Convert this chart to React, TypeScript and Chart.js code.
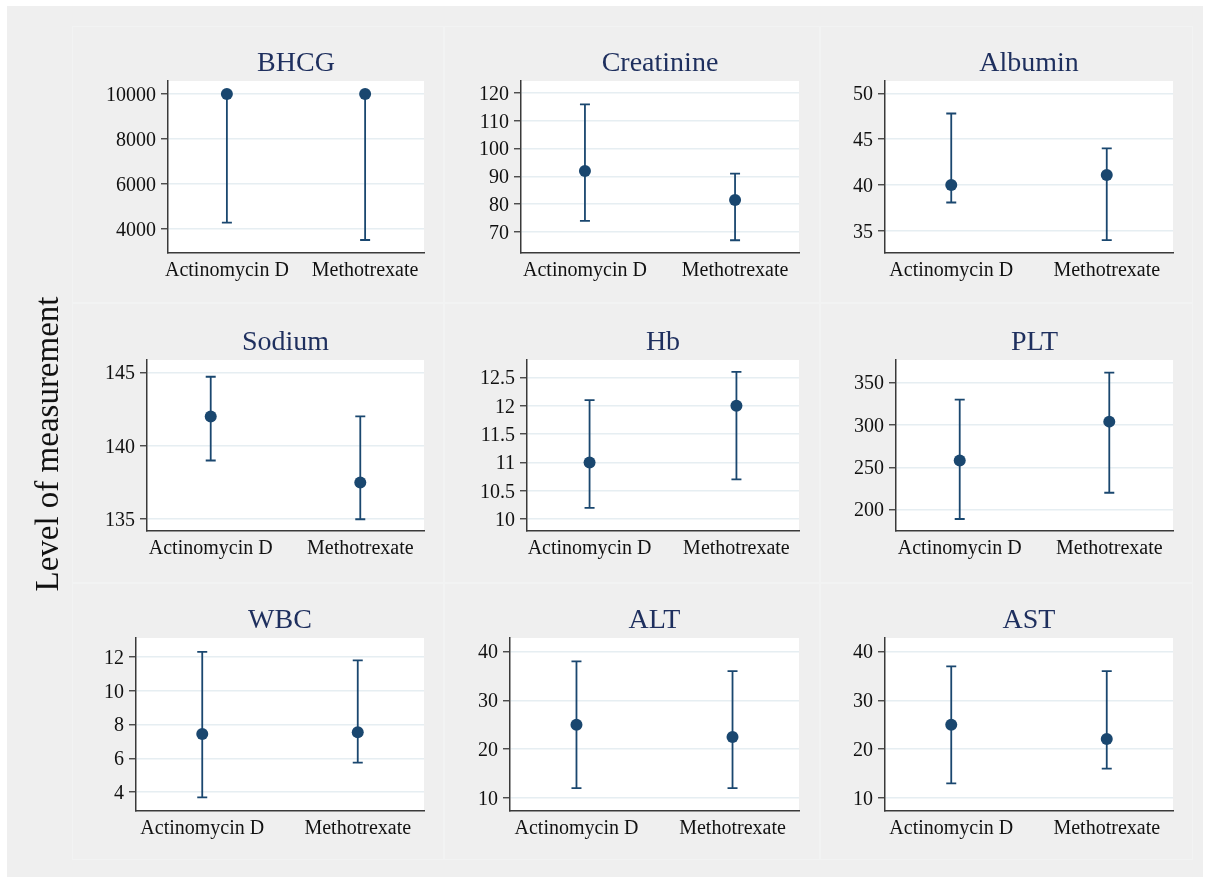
import React, { useEffect, useRef } from "react";
import { Chart, registerables } from "chart.js";

Chart.register(...registerables);

// ---------------- DATA ----------------
const groups = ["Actinomycin D", "Methotrexate"];
const titles = ["BHCG", "Creatinine", "Albumin", "Sodium", "Hb", "PLT", "WBC", "ALT", "AST"];

const bhcgMean = [10000, 10000];
const bhcgLow = [4280, 3510];
const bhcgHigh = [10000, 10000];

const creatinineMean = [92, 81.5];
const creatinineLow = [74, 67];
const creatinineHigh = [116, 91];

const albuminMean = [40, 41.1];
const albuminLow = [38.1, 34];
const albuminHigh = [47.8, 44];

const sodiumMean = [142, 137.5];
const sodiumLow = [139, 135];
const sodiumHigh = [144.7, 142];

const hbMean = [11, 12];
const hbLow = [10.2, 10.7];
const hbHigh = [12.1, 12.6];

const pltMean = [258, 304];
const pltLow = [189, 220];
const pltHigh = [330, 362];

const wbcMean = [7.45, 7.55];
const wbcLow = [3.7, 5.75];
const wbcHigh = [12.3, 11.8];

const altMean = [25, 22.5];
const altLow = [12, 12];
const altHigh = [38, 36];

const astMean = [25, 22.1];
const astLow = [13, 16];
const astHigh = [37, 36];

const bhcgTicks = [4000, 6000, 8000, 10000];
const creatinineTicks = [70, 80, 90, 100, 110, 120];
const albuminTicks = [35, 40, 45, 50];
const sodiumTicks = [135, 140, 145];
const hbTicks = [10, 10.5, 11, 11.5, 12, 12.5];
const pltTicks = [200, 250, 300, 350];
const wbcTicks = [4, 6, 8, 10, 12];
const altTicks = [10, 20, 30, 40];
const astTicks = [10, 20, 30, 40];

const yMins = [2933, 62.4, 32.6, 134.2, 9.79, 174.8, 2.89, 7.33, 7.33];
const yMaxs = [10578, 124.4, 51.34, 145.84, 12.81, 376.8, 13.12, 42.8, 42.8];

const yAxisTitle = "Level of measurement";

// ---------------- LAYOUT ----------------
const plotLeft = [168, 521, 885, 147, 527, 896, 136, 510, 885];
const plotRight = [424, 799, 1173, 424, 799, 1173, 424, 799, 1173];
const plotTop = [81, 81, 81, 360, 360, 360, 638, 638, 638];
const plotBottom = [253, 253, 253, 531, 531, 531, 811, 811, 811];
const colEdges = [72, 444, 820, 1193];
const rowEdges = [26, 303, 583, 860];

const FONT = "'Liberation Serif', 'Times New Roman', serif";
const NAVY = "#1a476f";
const TITLE_COLOR = "#1e2f5e";
const AXIS = "#3a3a3a";
const GRID = "#e6eef2";
const BG = "#efefef";

const panelMeans = [bhcgMean, creatinineMean, albuminMean, sodiumMean, hbMean, pltMean, wbcMean, altMean, astMean];
const panelLows = [bhcgLow, creatinineLow, albuminLow, sodiumLow, hbLow, pltLow, wbcLow, altLow, astLow];
const panelHighs = [bhcgHigh, creatinineHigh, albuminHigh, sodiumHigh, hbHigh, pltHigh, wbcHigh, altHigh, astHigh];
const panelTicks = [bhcgTicks, creatinineTicks, albuminTicks, sodiumTicks, hbTicks, pltTicks, wbcTicks, altTicks, astTicks];

const PAD_LEFT = 100;
const PAD_TOP = 60;
const PAD_BOTTOM = 40;
const PAD_RIGHT = 10;

const plotBgPlugin = {
  id: "plotBg",
  beforeDraw(chart: any) {
    const { ctx, chartArea } = chart;
    if (!chartArea) return;
    ctx.save();
    ctx.fillStyle = "#ffffff";
    ctx.fillRect(chartArea.left, chartArea.top, chartArea.right - chartArea.left, chartArea.bottom - chartArea.top);
    ctx.restore();
  },
};

const errorBarPlugin = {
  id: "errorBars",
  beforeDatasetsDraw(chart: any) {
    const { ctx } = chart;
    const xs = chart.scales.x;
    const ys = chart.scales.y;
    const ds: any = chart.data.datasets[0];
    const low: number[] = ds.low;
    const high: number[] = ds.high;
    ctx.save();
    ctx.strokeStyle = NAVY;
    ctx.lineWidth = 1.8;
    ctx.lineCap = "butt";
    const capHalf = 5;
    low.forEach((lo, i) => {
      const px = xs.getPixelForValue(i + 1);
      const y1 = ys.getPixelForValue(lo);
      const y2 = ys.getPixelForValue(high[i]);
      ctx.beginPath();
      ctx.moveTo(px, y1);
      ctx.lineTo(px, y2);
      ctx.moveTo(px - capHalf, y1);
      ctx.lineTo(px + capHalf, y1);
      ctx.moveTo(px - capHalf, y2);
      ctx.lineTo(px + capHalf, y2);
      ctx.stroke();
    });
    ctx.restore();
  },
};

function Panel({ idx }: { idx: number }) {
  const ref = useRef<HTMLCanvasElement | null>(null);
  const L = plotLeft[idx];
  const R = plotRight[idx];
  const T = plotTop[idx];
  const B = plotBottom[idx];
  const w = R - L + PAD_LEFT + PAD_RIGHT;
  const h = B - T + PAD_TOP + PAD_BOTTOM;

  useEffect(() => {
    if (!ref.current) return;
    const means = panelMeans[idx];
    const ticks = panelTicks[idx];
    const chart = new Chart(ref.current, {
      type: "scatter",
      data: {
        datasets: [
          {
            data: means.map((m, i) => ({ x: i + 1, y: m })),
            low: panelLows[idx],
            high: panelHighs[idx],
            backgroundColor: NAVY,
            borderColor: NAVY,
            borderWidth: 0,
            pointRadius: 6,
            pointHoverRadius: 6,
            showLine: false,
          } as any,
        ],
      },
      options: {
        responsive: false,
        maintainAspectRatio: false,
        animation: false,
        events: [],
        layout: { padding: { left: 0, right: PAD_RIGHT, top: 0, bottom: 0 } },
        plugins: {
          legend: { display: false },
          tooltip: { enabled: false },
          title: {
            display: true,
            text: titles[idx],
            fullSize: false,
            color: TITLE_COLOR,
            font: { family: FONT, size: 28, weight: "normal", lineHeight: 1 },
            padding: { top: 29, bottom: 3 },
          },
        },
        scales: {
          x: {
            type: "linear",
            min: 0.574,
            max: 2.426,
            afterBuildTicks: (s: any) => {
              s.ticks = groups.map((_, i) => ({ value: i + 1 }));
            },
            afterFit: (s: any) => {
              s.height = PAD_BOTTOM;
            },
            grid: { display: false, drawTicks: false },
            border: { display: true, color: AXIS, width: 1.5 },
            ticks: {
              callback: (v: any) => groups[Number(v) - 1] ?? "",
              font: { family: FONT, size: 20, lineHeight: 1 },
              color: "#111",
              padding: 8,
              maxRotation: 0,
              autoSkip: false,
            },
          },
          y: {
            type: "linear",
            min: yMins[idx],
            max: yMaxs[idx],
            afterBuildTicks: (s: any) => {
              s.ticks = ticks.map((v) => ({ value: v }));
            },
            afterFit: (s: any) => {
              s.width = PAD_LEFT;
            },
            grid: { color: GRID, lineWidth: 1.5, tickColor: AXIS, tickLength: 7, drawTicks: true, tickWidth: 1.3 },
            border: { display: true, color: AXIS, width: 1.5 },
            ticks: {
              callback: (v: any) => String(v),
              font: { family: FONT, size: 20, lineHeight: 1 },
              color: "#111",
              padding: 5,
              labelOffset: 1.5,
            },
          },
        },
      } as any,
      plugins: [plotBgPlugin, errorBarPlugin],
    });
    return () => chart.destroy();
  }, [idx]);

  return (
    <canvas
      ref={ref}
      width={w}
      height={h}
      style={{ position: "absolute", left: L - PAD_LEFT, top: T - PAD_TOP, width: w, height: h }}
    />
  );
}

export default function App() {
  const boxes: JSX.Element[] = [];
  for (let r = 0; r < 3; r++) {
    for (let c = 0; c < 3; c++) {
      boxes.push(
        <div
          key={`b${r}${c}`}
          style={{
            position: "absolute",
            left: colEdges[c],
            top: rowEdges[r],
            width: colEdges[c + 1] - colEdges[c],
            height: rowEdges[r + 1] - rowEdges[r],
            boxSizing: "border-box",
            border: "1px solid #f2f3f3",
          }}
        />
      );
    }
  }
  return (
    <div style={{ position: "fixed", left: 0, top: 0, width: 1205, height: 878, background: "#ffffff", overflow: "hidden" }}>
      <div style={{ position: "absolute", left: 7, top: 6, width: 1196, height: 871, background: BG }} />
      {boxes}
      {titles.map((_, i) => (
        <Panel key={i} idx={i} />
      ))}
      <div
        style={{
          position: "absolute",
          left: 47 - 200,
          top: 444 - 20,
          width: 400,
          height: 40,
          lineHeight: "40px",
          textAlign: "center",
          fontFamily: FONT,
          fontSize: 33,
          color: "#111",
          transform: "rotate(-90deg)",
          whiteSpace: "nowrap",
        }}
      >
        {yAxisTitle}
      </div>
    </div>
  );
}
